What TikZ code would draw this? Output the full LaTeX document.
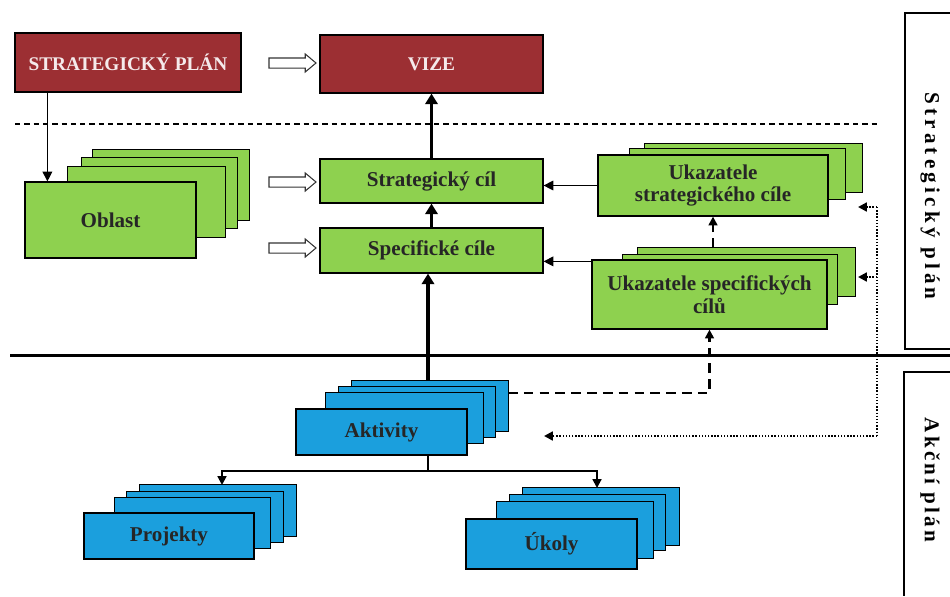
\documentclass[tikz,border=0pt]{standalone}
\usepackage{fontspec}
\setmainfont{Liberation Serif}
\newfontfamily\prolozeny[LetterSpace=20]{Liberation Serif}
\newfontfamily\prolozenyb[LetterSpace=15]{Liberation Serif}
\usetikzlibrary{arrows.meta,shapes.arrows,backgrounds}
\definecolor{vinova}{HTML}{9C2F33}
\definecolor{trava}{HTML}{8ED14F}
\definecolor{nebe}{HTML}{1B9FDD}

\tikzset{
  ramec/.style={draw=black,line width=0.7pt,inner sep=2pt,align=center,
    font=\bfseries\fontsize{12}{13}\selectfont,text=black!85},
  cerveny/.style={ramec,fill=vinova,text=white!90!vinova,
    font=\bfseries\fontsize{11}{13}\selectfont},
  zeleny/.style={ramec,fill=trava},
  modry/.style={ramec,fill=nebe},
  karta/.style={draw=black,line width=0.7pt},
  prazdna/.style={single arrow,draw=black!80,line width=0.6pt,fill=white,
    minimum height=0.94cm,minimum width=0.34cm,inner sep=0.09cm,
    single arrow head extend=0.08cm,single arrow tip angle=80},
  tenka/.style={line width=0.6pt,-{Triangle[length=5.5pt,width=5.5pt]}},
  silna/.style={line width=1.8pt,-{Triangle[length=6pt,width=7pt]}},
  stredni/.style={line width=1.1pt},
  carky/.style={line width=1.2pt,dash pattern=on 5.5pt off 3.5pt,
    -{Triangle[length=5pt,width=5pt]}},
  tecky/.style={line width=1.5pt,dash pattern=on 0.8pt off 1pt},
  hrot/.style={-{Triangle[length=5pt,width=5pt]}},
  popisek/.style={rotate=-90,font=\bfseries\fontsize{12}{14}\selectfont}
}

% zadni karty pod hlavnim uzlem: offsety rohu v px
\newcommand{\karty}[3]{%
  \begin{scope}[on background layer]
    \foreach \a/\b/\c/\d in {#3}
      \draw[karta,fill=#2] ([shift={(\a,\b)}]#1.north west) rectangle ([shift={(\c,\d)}]#1.south east);
  \end{scope}}

\begin{document}
\begin{tikzpicture}[x=0.02cm,y=-0.02cm]
  \useasboundingbox (0,0) rectangle (950,596);

  % horni cast
  \node[cerveny,minimum width=4.52cm,minimum height=1.18cm] (plan) at (128,62.5) {STRATEGICKÝ PLÁN};
  \node[cerveny,minimum width=4.46cm,minimum height=1.16cm] (vize) at (431.5,64) {VIZE};
  \node[prazdna] (sip1) at (289.5,63) {};

  \draw[line width=0.6pt,dash pattern=on 3pt off 2.3pt] (15,124) -- (878,124);

  \node[zeleny,minimum width=4.46cm,minimum height=0.88cm] (cil) at (431.5,181) {Strategický cíl};
  \node[zeleny,minimum width=4.46cm,minimum height=0.9cm] (specif) at (431.5,250.5) {Specifické cíle};
  \node[prazdna] (sip2) at (289.5,182) {};
  \node[prazdna] (sip3) at (289.5,248) {};

  \node[zeleny,minimum width=3.42cm,minimum height=1.52cm] (oblast) at (110.5,220) {Oblast};
  \karty{oblast}{trava}{68/-32/53/-38, 57/-24/41/-30, 43/-15/29/-21}

  \node[zeleny,minimum width=4.6cm,minimum height=1.22cm] (ukstrat) at (713,185.5) {Ukazatele\\strategického cíle};
  \karty{ukstrat}{trava}{47/-11/34/-24, 32/-6/17/-17}
  \node[zeleny,minimum width=4.7cm,minimum height=1.38cm] (ukspec) at (709.5,294.5) {Ukazatele specifických\\cílů};
  \karty{ukspec}{trava}{46/-12/28/-33, 31/-5/10/-25}

  % akcni cast
  \draw[line width=1.7pt] (10,355) -- (950,355);

  \node[modry,minimum width=3.42cm,minimum height=0.92cm] (aktivity) at (381.5,432) {Aktivity};
  \karty{aktivity}{nebe}{56/-28/41/-24, 43/-22/28/-18, 30/-16/16/-12}
  \node[modry,minimum width=3.4cm,minimum height=0.92cm] (projekty) at (169,536) {Projekty};
  \karty{projekty}{nebe}{56/-28/42/-23, 43/-21/29/-17, 31/-15/16/-11}
  \node[modry,minimum width=3.42cm,minimum height=1.0cm] (ukoly) at (551.5,544) {Úkoly};
  \karty{ukoly}{nebe}{57/-31/42/-24, 44/-24/28/-19, 31/-17/16/-11}

  % ramecky vpravo
  \draw[line width=0.7pt] (950,13) -| (905,349) -- (950,349);
  \draw[line width=0.7pt] (950,372) -| (904,596);
  \node[popisek] (lblstrat) at (930,196) {\prolozeny Strategický plán};
  \node[popisek] (lblakce) at (930,480) {\prolozenyb Akční plán};

  % spojnice
  \coordinate (akttop) at (428,381);
  \coordinate (rozc) at (428,471);
  \coordinate (projtop) at (222,485);
  \coordinate (ukoltop) at (597,488);
  \coordinate (aktpravo) at (508,393);
  \coordinate (ukspectop) at (713,248);
  \coordinate (t1) at (877,207);
  \coordinate (t2) at (877,277);
  \coordinate (t3) at (877,436);
  \coordinate (c1) at (858,207);
  \coordinate (c2) at (858,277);
  \coordinate (c3) at (544,436);

  \draw[tenka] ([xshift=0.66cm]plan.south west) -- ([xshift=0.66cm]plan.south west |- oblast.north);
  \draw[silna] (cil.north) -- (vize.south);
  \draw[silna] (specif.north) -- (cil.south);
  \draw[silna] (akttop) -- (akttop |- specif.south);
  \draw[tenka] (ukstrat.west) -- (ukstrat.west -| cil.east);
  \draw[tenka] ([yshift=-0.04cm]ukspec.north west) -- ([yshift=-0.04cm]ukspec.north west -| specif.east);
  \draw[carky] (ukspectop) -- (ukstrat.south);
  \draw[carky] (aktpravo) -| (ukspec.south);
  \draw[stredni] (aktivity.south -| akttop) -- (rozc);
  \draw[stredni,hrot] (rozc) -| (projtop);
  \draw[stredni,hrot] (rozc) -| (ukoltop);
  \draw[tecky] (t1) -- (t3);
  \draw[tecky,hrot] (t1) -- (c1);
  \draw[tecky,hrot] (t2) -- (c2);
  \draw[tecky,hrot] (t3) -- (c3);
\end{tikzpicture}
\end{document}
